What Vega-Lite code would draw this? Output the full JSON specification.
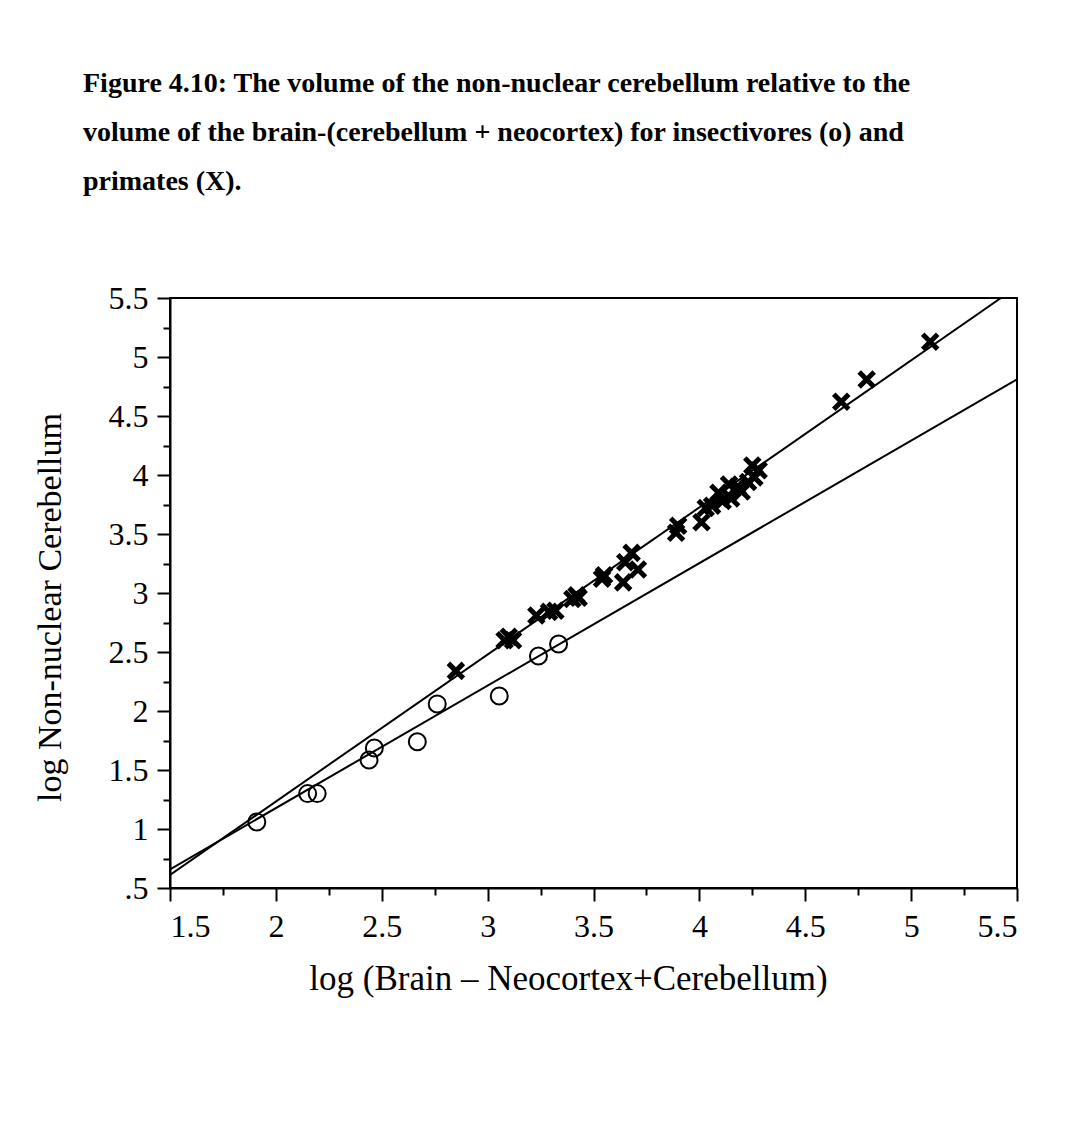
{
  "$schema": "https://vega.github.io/schema/vega-lite/v6.json",
  "autosize": {"type": "none"},
  "width": 847,
  "height": 590,
  "padding": {"left": 170, "top": 298, "right": 61, "bottom": 257},
  "background": "white",
  "config": {
    "view": {"stroke": "black", "strokeWidth": 2},
    "font": "Liberation Serif"
  },
  "title": {
    "text": [
      "Figure 4.10: The volume of the non-nuclear cerebellum relative to the",
      "volume of the brain-(cerebellum + neocortex) for insectivores (o) and",
      "primates (X)."
    ],
    "anchor": "start",
    "frame": "group",
    "align": "left",
    "dx": -87,
    "offset": 86,
    "font": "Liberation Serif",
    "fontWeight": "bold",
    "fontSize": 28,
    "lineHeight": 49,
    "color": "black"
  },
  "datasets": {
    "fits": [
      {"group": "insectivores", "x": 1.5, "y": 0.658},
      {"group": "insectivores", "x": 5.5, "y": 4.81},
      {"group": "primates", "x": 1.5, "y": 0.61},
      {"group": "primates", "x": 5.424, "y": 5.5}
    ],
    "insectivores": [
      {"x": 1.91, "y": 1.06},
      {"x": 2.15, "y": 1.30},
      {"x": 2.195, "y": 1.30},
      {"x": 2.44, "y": 1.585},
      {"x": 2.465, "y": 1.686},
      {"x": 2.668, "y": 1.74},
      {"x": 2.762, "y": 2.06},
      {"x": 3.055, "y": 2.127},
      {"x": 3.24, "y": 2.466},
      {"x": 3.335, "y": 2.568}
    ],
    "primates": [
      {"x": 2.85, "y": 2.34},
      {"x": 3.08, "y": 2.60},
      {"x": 3.10, "y": 2.63},
      {"x": 3.12, "y": 2.60},
      {"x": 3.23, "y": 2.81},
      {"x": 3.29, "y": 2.84},
      {"x": 3.32, "y": 2.85},
      {"x": 3.40, "y": 2.95},
      {"x": 3.42, "y": 2.98},
      {"x": 3.43, "y": 2.96},
      {"x": 3.54, "y": 3.12},
      {"x": 3.55, "y": 3.15},
      {"x": 3.64, "y": 3.09},
      {"x": 3.65, "y": 3.26},
      {"x": 3.68, "y": 3.34},
      {"x": 3.71, "y": 3.20},
      {"x": 3.89, "y": 3.51},
      {"x": 3.90, "y": 3.57},
      {"x": 4.01, "y": 3.60},
      {"x": 4.03, "y": 3.72},
      {"x": 4.06, "y": 3.74},
      {"x": 4.09, "y": 3.85},
      {"x": 4.11, "y": 3.78},
      {"x": 4.14, "y": 3.92},
      {"x": 4.15, "y": 3.80},
      {"x": 4.18, "y": 3.90},
      {"x": 4.20, "y": 3.86},
      {"x": 4.23, "y": 3.94},
      {"x": 4.25, "y": 4.08},
      {"x": 4.26, "y": 3.98},
      {"x": 4.28, "y": 4.04},
      {"x": 4.67, "y": 4.62},
      {"x": 4.79, "y": 4.81},
      {"x": 5.09, "y": 5.13}
    ]
  },
  "layer": [
    {
      "data": {"name": "fits"},
      "mark": {"type": "line", "color": "black", "strokeWidth": 2, "clip": true},
      "encoding": {
        "detail": {"field": "group"},
        "x": {
          "field": "x", "type": "quantitative",
          "scale": {"domain": [1.5, 5.5], "nice": false, "zero": false},
          "axis": {
            "orient": "bottom",
            "values": [1.5, 2, 2.5, 3, 3.5, 4, 4.5, 5, 5.5],
            "labelExpr": "format(datum.value, '~g')",
            "grid": false,
            "domainColor": "black", "domainWidth": 2,
            "tickColor": "black", "tickWidth": 2, "tickSize": 13,
            "labelColor": "black", "labelFont": "Liberation Serif", "labelFontSize": 32,
            "labelPadding": 10,
            "title": "log (Brain – Neocortex+Cerebellum)",
            "titleFont": "Liberation Serif", "titleFontSize": 35, "titleFontWeight": "normal",
            "titleColor": "black",
            "titleX": 398, "titleY": 101, "titleBaseline": "alphabetic", "titleAlign": "center"
          }
        },
        "y": {
          "field": "y", "type": "quantitative",
          "scale": {"domain": [0.5, 5.5], "nice": false, "zero": false},
          "axis": {
            "orient": "left",
            "values": [0.5, 1, 1.5, 2, 2.5, 3, 3.5, 4, 4.5, 5, 5.5],
            "labelExpr": "datum.value == 0.5 ? '.5' : format(datum.value, '~g')",
            "grid": false,
            "domainColor": "black", "domainWidth": 2,
            "tickColor": "black", "tickWidth": 2, "tickSize": 13,
            "labelColor": "black", "labelFont": "Liberation Serif", "labelFontSize": 32,
            "labelPadding": 9,
            "title": "log Non-nuclear Cerebellum",
            "titleFont": "Liberation Serif", "titleFontSize": 34, "titleFontWeight": "normal",
            "titleColor": "black",
            "titleX": -120, "titleY": 309, "titleAngle": -90,
            "titleBaseline": "middle", "titleAlign": "center"
          }
        }
      }
    },
    {
      "data": {"name": "insectivores"},
      "mark": {"type": "point", "shape": "circle", "filled": false, "color": "black", "strokeWidth": 2, "size": 289, "opacity": 1},
      "encoding": {
        "x": {
          "field": "x", "type": "quantitative",
          "axis": {
            "orient": "bottom",
            "values": [1.75, 2.25, 2.75, 3.25, 3.75, 4.25, 4.75, 5.25],
            "labels": false, "domain": false, "grid": false,
            "tickColor": "black", "tickWidth": 2, "tickSize": 7,
            "title": null
          }
        },
        "y": {
          "field": "y", "type": "quantitative",
          "axis": {
            "orient": "left",
            "values": [0.75, 1.25, 1.75, 2.25, 2.75, 3.25, 3.75, 4.25, 4.75, 5.25],
            "labels": false, "domain": false, "grid": false,
            "tickColor": "black", "tickWidth": 2, "tickSize": 7,
            "title": null
          }
        }
      }
    },
    {
      "data": {"name": "primates"},
      "mark": {"type": "point", "shape": "M-1,-1L1,1M1,-1L-1,1", "filled": false, "color": "black", "strokeWidth": 5, "size": 225, "opacity": 1},
      "encoding": {
        "x": {"field": "x", "type": "quantitative", "axis": null},
        "y": {"field": "y", "type": "quantitative", "axis": null}
      }
    }
  ],
  "resolve": {"axis": {"x": "independent", "y": "independent"}}
}
